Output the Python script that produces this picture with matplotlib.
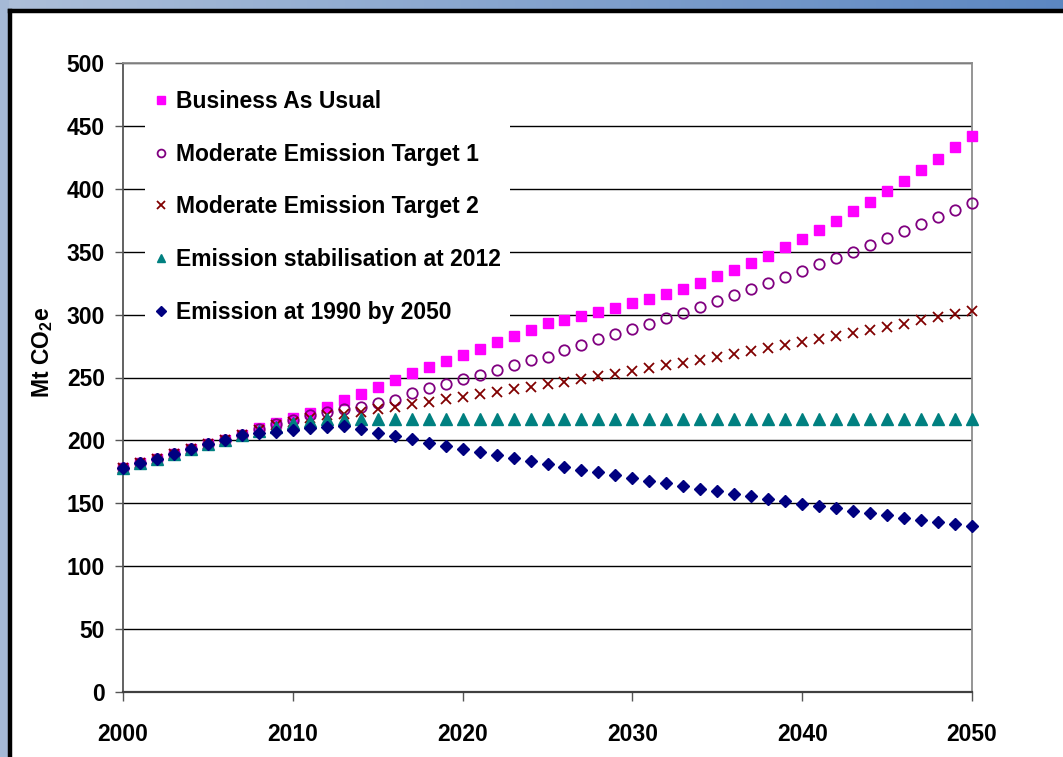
import numpy as np
import matplotlib
matplotlib.use("Agg")
import matplotlib.pyplot as plt
from matplotlib.lines import Line2D

plt.rcParams['font.family'] = ['Liberation Sans', 'DejaVu Sans']
plt.rcParams['font.weight'] = 'bold'
plt.rcParams['mathtext.fontset'] = 'custom'
plt.rcParams['mathtext.rm'] = 'Liberation Sans:bold'
plt.rcParams['mathtext.it'] = 'Liberation Sans:bold'
plt.rcParams['mathtext.bf'] = 'Liberation Sans:bold'

years = list(range(2000, 2051))

business_as_usual = [
    178.0, 181.8, 185.5, 189.2, 192.9, 196.9, 200.3, 204.3, 209.6, 213.6,
    218.0, 222.0, 226.8, 232.1, 237.2, 242.7, 248.0, 253.3, 258.6, 263.4,
    267.9, 272.9, 278.0, 283.0, 287.8, 293.1, 295.7, 298.6, 301.8, 305.5,
    309.2, 312.7, 316.1, 320.6, 324.9, 330.5, 335.1, 341.3, 346.9, 353.7,
    360.1, 367.2, 374.1, 382.1, 389.5, 398.0, 405.9, 414.9, 423.7, 433.0,
    442.2]

moderate_target_1 = [
    178.0, 181.8, 185.5, 189.2, 192.9, 196.9, 200.3, 204.3, 208.8, 213.0,
    216.5, 219.8, 222.5, 224.7, 226.8, 229.5, 232.1, 237.9, 241.4, 244.8,
    248.6, 252.0, 256.0, 260.0, 263.9, 266.5, 271.9, 275.6, 280.4, 284.3,
    288.6, 292.8, 297.1, 301.5, 306.0, 310.8, 315.7, 320.1, 324.9, 330.2,
    335.0, 340.0, 345.3, 350.1, 355.3, 360.9, 366.5, 371.8, 377.4, 383.2,
    389.0]

moderate_target_2 = [
    178.0, 181.8, 185.5, 189.2, 192.9, 196.9, 200.3, 204.3, 208.5, 212.0,
    214.9, 217.5, 220.2, 221.0, 222.8, 224.7, 226.8, 228.7, 230.8, 232.9,
    234.8, 236.6, 238.7, 240.8, 242.7, 244.8, 246.7, 248.8, 251.2, 253.0,
    255.4, 257.6, 259.7, 261.8, 264.2, 266.5, 268.8, 271.1, 273.2, 275.6,
    278.2, 280.6, 283.0, 285.4, 287.8, 290.1, 292.8, 295.4, 297.8, 300.5,
    303.1]

stabilisation_2012 = [
    178.0, 181.8, 185.5, 189.2, 192.9, 196.9, 200.3, 204.3, 207.5, 210.9,
    213.6, 215.7, 217.0, 217.0, 217.0, 217.0, 217.0, 217.0, 217.0, 217.0,
    217.0, 217.0, 217.0, 217.0, 217.0, 217.0, 217.0, 217.0, 217.0, 217.0,
    217.0, 217.0, 217.0, 217.0, 217.0, 217.0, 217.0, 217.0, 217.0, 217.0,
    217.0, 217.0, 217.0, 217.0, 217.0, 217.0, 217.0, 217.0, 217.0, 217.0,
    217.0]

level_1990_by_2050 = [
    178.0, 181.8, 185.5, 189.2, 192.9, 196.9, 200.3, 204.3, 206.1, 207.0,
    208.3, 209.6, 210.9, 211.4, 208.8, 206.1, 203.8, 200.9, 198.2, 195.8,
    193.4, 190.8, 188.6, 186.3, 183.9, 181.5, 179.1, 176.7, 174.6, 172.3,
    170.1, 168.0, 165.9, 163.8, 161.6, 159.8, 157.6, 155.8, 153.7, 151.6,
    149.7, 147.9, 146.0, 143.9, 142.0, 140.4, 138.6, 136.7, 135.1, 133.5,
    132.0]

series_labels = [
    "Business As Usual",
    "Moderate Emission Target 1",
    "Moderate Emission Target 2",
    "Emission stabilisation at 2012",
    "Emission at 1990 by 2050",
]
y_ticks = [0, 50, 100, 150, 200, 250, 300, 350, 400, 450, 500]
x_ticks = [2000, 2010, 2020, 2030, 2040, 2050]

W, H = 1063, 757
fig = plt.figure(figsize=(W / 100, H / 100), dpi=100, facecolor='white')

# sky-blue strips along the top and left of the white slide panel
c0 = np.array([0.68, 0.75, 0.85])
c1 = np.array([0.36, 0.53, 0.76])
ramp = np.linspace(0, 1, 256)[None, :, None]
top_sky = c0 + (c1 - c0) * ramp
top_ax = fig.add_axes([0, 1 - 10 / H, 1, 10 / H], zorder=-10)
top_ax.imshow(top_sky, aspect='auto', extent=[0, 1, 0, 1])
top_ax.set_axis_off()
left_sky = np.repeat((c0 + (c1 - c0) * 0.15)[None, None, :], 2, axis=0)
left_sky = c0 * 0.9 + c1 * 0.1 + 0 * np.linspace(0, 1, 64)[:, None, None]
left_ax = fig.add_axes([0, 0, 9 / W, 1], zorder=-10)
left_ax.imshow(left_sky, aspect='auto', extent=[0, 1, 0, 1])
left_ax.set_axis_off()

# heavy black frame on the panel's top and left edges
px, py = 10 / W, 1 - 11 / H
fig.add_artist(Line2D([px, px], [0, py], color='black', linewidth=3.2,
                      solid_capstyle='projecting', transform=fig.transFigure))
fig.add_artist(Line2D([px, 1], [py, py], color='black', linewidth=3.2,
                      solid_capstyle='projecting', transform=fig.transFigure))

ax = fig.add_axes([123 / W, 1 - 692 / H, (972 - 123) / W, (692 - 63) / H])
ax.set_facecolor('none')

styles = [
    dict(marker='s', color='#FF00FF', ms=7.5, mfc='#FF00FF', mec='#FF00FF'),
    dict(marker='o', color='#800080', ms=7.5, mfc='none', mec='#800080', mew=1.3),
    dict(marker='x', color='#800000', ms=7.5, mec='#800000', mew=1.3),
    dict(marker='^', color='#008080', ms=8, mfc='#008080', mec='#008080'),
    dict(marker='D', color='#000080', ms=6.5, mfc='#000080', mec='#000080'),
]
series = [business_as_usual, moderate_target_1, moderate_target_2,
          stabilisation_2012, level_1990_by_2050]

for vals, lab, st in zip(series, series_labels, styles):
    ax.plot(years, vals, linestyle='none', label=lab, clip_on=False, zorder=3, **st)

ax.set_xlim(2000, 2050)
ax.set_ylim(0, 500)
ax.set_yticks(y_ticks)
ax.set_xticks(x_ticks)
ax.yaxis.grid(True, color='black', linewidth=1.0)
ax.set_axisbelow(True)

for side in ['top', 'right']:
    ax.spines[side].set_color('#8c8c8c')
    ax.spines[side].set_linewidth(1.3)
ax.spines['left'].set_color('#555555')
ax.spines['bottom'].set_color('#404040')
ax.spines['left'].set_linewidth(1.3)
ax.spines['bottom'].set_linewidth(1.6)

ax.tick_params(axis='y', direction='out', length=6, width=1, color='#555555',
               pad=7, labelsize=16.5)
ax.tick_params(axis='x', direction='out', length=6.5, width=1, color='#555555',
               pad=16, labelsize=16.5)
for t in ax.get_xticklabels() + ax.get_yticklabels():
    t.set_fontweight('bold')

ax.set_ylabel('Mt CO$_{2}$e', fontsize=16.5, fontweight='bold')
ax.yaxis.set_label_coords(-0.080, 0.54)

leg = ax.legend(loc='upper left', bbox_to_anchor=(0.012, 0.99), frameon=True,
                fancybox=False, facecolor='white', edgecolor='none', framealpha=1,
                fontsize=16.5, markerscale=0.75, handlelength=0.6, handletextpad=0.35,
                labelspacing=1.3, borderpad=0.4)
for t in leg.get_texts():
    t.set_fontweight('bold')
leg.set_zorder(2)

fig.savefig('out.png', dpi=100)
